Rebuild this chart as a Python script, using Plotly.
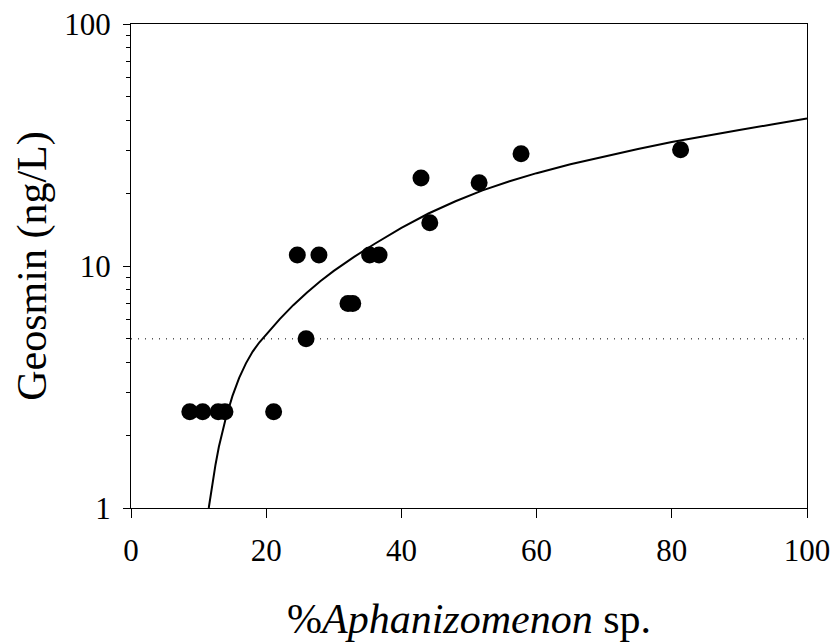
import plotly.graph_objects as go

# Observed data points
pct_aphanizomenon = [8.7, 10.6, 12.9, 13.9, 21.1, 24.6, 25.9, 27.8, 32.1, 32.8,
                     35.3, 36.7, 42.9, 44.2, 51.5, 57.7, 81.3]
geosmin_ngL = [2.5, 2.5, 2.5, 2.5, 2.5, 11.1, 5.0, 11.1, 7.0, 7.0,
               11.1, 11.1, 23.1, 15.1, 22.1, 29.1, 30.2]

# Fitted curve
fit_x = [11.5, 12.0, 12.5, 13.0, 13.5, 14.0, 15.0, 16.0, 17.0, 18.0, 19.0, 20.0,
         22.0, 24.0, 26.0, 28.0, 30.0, 33.0, 36.0, 40.0, 44.0, 48.0, 52.0, 56.0,
         60.0, 65.0, 70.0, 75.0, 80.0, 85.0, 90.0, 95.0, 100.0]
fit_y = [1.0, 1.25, 1.51, 1.79, 2.07, 2.34, 2.90, 3.45, 3.96, 4.43, 4.84, 5.22,
         6.03, 6.89, 7.76, 8.65, 9.55, 10.91, 12.33, 14.36, 16.48, 18.52, 20.54, 22.41,
         24.19, 26.31, 28.39, 30.46, 32.53, 34.53, 36.49, 38.5, 40.7]

# Threshold line
threshold_x = [0, 100]
threshold_y = [5, 5]

x_ticks = [0, 20, 40, 60, 80, 100]
y_ticks = [1, 10, 100]

font_family = "Liberation Serif"

fig = go.Figure()
fig.add_trace(go.Scatter(x=threshold_x, y=threshold_y, mode="lines",
                         line=dict(color="black", width=1, dash="1px,6px"),
                         hoverinfo="skip", showlegend=False))
fig.add_trace(go.Scatter(x=fit_x, y=fit_y, mode="lines",
                         line=dict(color="black", width=2, shape="linear"),
                         showlegend=False))
fig.add_trace(go.Scatter(x=pct_aphanizomenon, y=geosmin_ngL, mode="markers",
                         marker=dict(color="black", size=17, line=dict(width=0)),
                         showlegend=False))

fig.update_layout(
    width=834, height=642,
    margin=dict(l=131, r=27, t=24, b=134, autoexpand=False),
    plot_bgcolor="white", paper_bgcolor="white",
    font=dict(family=font_family, color="black"),
    showlegend=False,
    xaxis=dict(
        range=[0, 100], tickvals=x_ticks, ticktext=[str(v) for v in x_ticks],
        ticks="outside", ticklen=9, tickwidth=1.3, tickcolor="black",
        ticklabelstandoff=6,
        showline=True, linecolor="black", linewidth=1.3, mirror=True,
        showgrid=False, zeroline=False, automargin=False,
        tickfont=dict(size=31, family=font_family),
        title=dict(text="%<i>Aphanizomenon</i> sp.", font=dict(size=42, family=font_family),
                   standoff=38),
    ),
    yaxis=dict(
        type="log", range=[0, 2], tickvals=y_ticks, ticktext=[str(v) for v in y_ticks],
        ticks="outside", ticklen=7, tickwidth=1.3, tickcolor="black",
        ticklabelstandoff=6,
        minor=dict(ticks="outside", ticklen=4, tickwidth=1, tickcolor="black",
                   dtick="D1", showgrid=False),
        showline=True, linecolor="black", linewidth=1.3, mirror=True,
        showgrid=False, zeroline=False, automargin=False,
        tickfont=dict(size=31, family=font_family),
        title=dict(text="Geosmin (ng/L)", font=dict(size=42, family=font_family),
                   standoff=4),
    ),
)

fig.write_html("out.html")
